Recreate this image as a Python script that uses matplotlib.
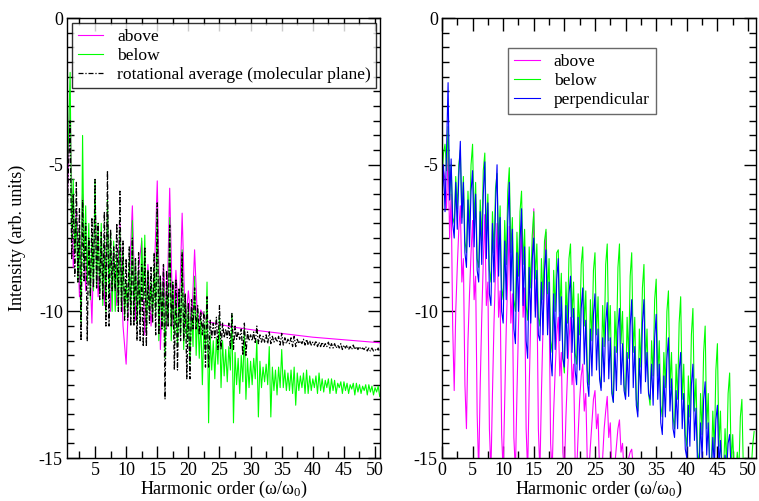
import numpy as np
import matplotlib
matplotlib.use("Agg")
import matplotlib.pyplot as plt

plt.rcParams['font.family'] = ['Liberation Serif', 'DejaVu Serif']
plt.rcParams['mathtext.fontset'] = 'custom'
plt.rcParams['mathtext.rm'] = 'Liberation Serif'
plt.rcParams['mathtext.it'] = 'Liberation Serif:italic'
plt.rcParams['axes.unicode_minus'] = False

# ---------------- left panel (molecular plane) ----------------
# "above": read at 0.5 steps from order 0.5 to 22, then the smooth tail
above_l_osc_x = np.arange(0.5, 22.01, 0.5)
above_l_osc = [-6.5, -3.0, -8.5, -6.5, -9.5, -6.0, -9.3, -7.5, -10.4, -6.2,
               -9.5, -7.6, -9.8, -6.5, -10.0, -7.8, -9.8, -7.0, -10.5, -11.8,
               -9.0, -6.4, -10.3, -8.5, -7.6, -10.8, -8.4, -10.5, -9.0, -5.55,
               -11.3, -8.4, -10.6, -5.8, -10.5, -8.6, -10.4, -6.65, -10.5, -9.3,
               -10.6, -7.9, -10.5, -9.95]
above_l_tail_x = [23.0, 27.0, 31.0, 40.0, 50.8]
above_l_tail_y = [-10.35, -10.53, -10.65, -10.88, -11.07]

# "below" and rotational average: read at 0.25 steps from order 0.5
left_x = np.arange(0.5, 50.76, 0.25)
below_l = [-5.5, -4.0,
           -1.85, -7.5, -5.5, -8.0, -6.8, -9.0, -7.2, -10.4,
           -4.0, -8.6, -6.4, -9.0, -7.0, -9.6, -7.4, -9.3,
           -5.5, -9.2, -7.0, -9.4, -7.0, -9.8, -7.6, -10.0,
           -6.2, -9.5, -7.3, -10.0, -7.6, -10.0, -8.0, -9.9,
           -7.2, -9.9, -8.0, -10.2, -9.0, -10.0, -8.3, -10.1,
           -6.9, -10.2, -8.2, -10.4, -8.6, -10.3, -7.5, -9.6,
           -7.4, -10.75, -8.6, -10.0, -9.0, -10.2, -8.5, -10.0,
           -6.5, -11.0, -8.8, -10.6, -9.0, -11.6, -9.2, -10.5,
           -6.8, -11.0, -9.0, -10.8, -9.4, -11.2, -9.4, -10.8,
           -7.9, -11.3, -9.4, -11.0, -9.8, -11.8, -9.9, -11.2,
           -8.8, -11.5, -10.0, -11.6, -10.3, -12.5, -10.4, -11.4,
           -9.0, -13.8, -10.8, -12.0, -11.0, -12.3, -10.9, -11.8,
           -10.2, -12.6, -11.0, -12.2, -11.3, -12.4, -11.2, -12.0,
           -10.1, -13.8, -11.4, -12.5, -11.6, -12.8, -11.5, -12.4,
           -10.6, -13.0, -11.6, -12.6, -11.7, -12.5, -11.6, -12.3,
           -11.0, -13.6, -11.7, -12.6, -11.9, -12.4, -11.8, -12.5,
           -11.2, -13.6, -11.9, -12.7, -12.0, -12.85, -11.9, -12.6,
           -11.3, -12.6, -12.0, -12.7, -12.1, -12.7, -12.0, -12.8,
           -11.9, -13.2, -12.1, -12.7, -12.2, -12.6, -12.1, -12.8,
           -12.0, -12.8, -12.2, -12.7, -12.3, -12.6, -12.2, -12.8,
           -12.1, -12.7, -12.3, -12.75, -12.35, -12.6, -12.3, -12.8,
           -12.3, -12.7, -12.35, -12.8, -12.45, -12.6, -12.4, -12.8,
           -12.4, -12.7, -12.45, -12.8, -12.5, -12.65, -12.45, -12.85,
           -12.45, -12.75, -12.5, -12.8, -12.55, -12.7, -12.5, -12.85,
           -12.5, -12.75, -12.55, -12.85, -12.6, -12.75, -12.55, -12.9]

rotavg_l = [-7.0, -5.0,
            -3.5, -8.2, -6.0, -8.8, -5.6, -9.0, -6.5, -11.0,
            -6.2, -9.0, -7.0, -11.0, -7.5, -9.5, -6.8, -9.2,
            -5.5, -9.2, -7.0, -9.6, -7.3, -9.6, -6.6, -10.5,
            -5.2, -10.5, -7.2, -9.3, -7.8, -9.3, -7.0, -10.0,
            -5.9, -10.0, -7.6, -10.3, -8.2, -10.3, -7.8, -10.5,
            -7.5, -10.5, -8.2, -11.0, -8.0, -11.0, -8.4, -11.2,
            -7.8, -11.2, -8.6, -10.4, -8.5, -10.4, -8.0, -10.8,
            -6.3, -10.8, -8.8, -10.6, -8.4, -13.0, -8.6, -10.5,
            -7.06, -10.5, -9.0, -12.0, -8.9, -12.0, -9.2, -11.0,
            -8.0, -11.0, -9.4, -12.3, -9.7, -12.3, -9.6, -10.6,
            -9.2, -10.6, -9.8, -10.8, -10.0, -10.8, -10.0, -11.9,
            -9.5, -11.9, -10.3, -10.9, -10.4, -10.9, -10.2, -11.3,
            -9.8, -11.3, -10.4, -10.9, -10.6, -10.9, -10.4, -11.3,
            -10.07, -11.3, -10.5, -10.95, -10.7, -10.95, -10.6, -11.5,
            -10.4, -11.5, -10.7, -11.0, -10.8, -11.0, -10.7, -11.1,
            -10.5, -11.1, -10.8, -11.05, -10.85, -11.05, -10.8, -11.1,
            -10.7, -11.1, -10.85, -11.05, -10.9, -11.05, -10.85, -11.15,
            -10.75, -11.15, -10.9, -11.1, -10.95, -11.1, -10.9, -11.2,
            -10.85, -11.2, -10.95, -11.1, -11.0, -11.1, -10.95, -11.15,
            -10.95, -11.15, -11.0, -11.15, -11.05, -11.15, -11.0, -11.2,
            -11.05, -11.2, -11.05, -11.2, -11.1, -11.2, -11.05, -11.25,
            -11.1, -11.25, -11.1, -11.25, -11.15, -11.25, -11.1, -11.3,
            -11.15, -11.25, -11.15, -11.3, -11.2, -11.3, -11.15, -11.3,
            -11.2, -11.3, -11.2, -11.3, -11.25, -11.3, -11.2, -11.35,
            -11.25, -11.35, -11.25, -11.35, -11.3, -11.35, -11.25, -11.4]

# ---------------- right panel ----------------
# all read at 0.25 steps starting at order 0
right_x = np.arange(0.0, 51.01, 0.25)
above_r = [-6.0, -5.2, -5.5, -6.5,
           -4.5, -7.5, -6.0, -10.5, -12.7, -10.0, -8.5, -7.2,
           -6.4, -9.0, -8.2, -12.5, -14.0, -11.0, -9.4, -8.0,
           -6.9, -9.6, -8.8, -13.5, -15.5, -12.5, -10.2, -8.3,
           -6.7, -9.8, -9.0, -14.0, -15.5, -12.8, -10.4, -8.6,
           -7.0, -10.2, -9.3, -14.2, -15.5, -13.0, -10.6, -8.8,
           -7.1, -10.4, -9.4, -14.3, -15.5, -12.8, -10.5, -8.6,
           -7.0, -10.2, -9.2, -14.0, -15.5, -12.6, -10.3, -8.2,
           -6.5, -10.0, -9.0, -14.0, -15.5, -12.8, -10.6, -8.6,
           -7.3, -10.6, -9.6, -14.5, -15.5, -13.4, -12.0, -10.8,
           -10.2, -12.2, -11.4, -14.8, -15.5, -13.6, -12.2, -11.0,
           -10.2, -12.5, -11.8, -15.0, -15.5, -14.2, -13.0, -12.2,
           -11.8, -13.4, -12.8, -15.2, -15.5, -14.6, -13.8, -13.0,
           -12.7, -14.0, -13.5, -15.5, -15.5, -15.0, -14.0, -13.4,
           -12.9, -14.3, -13.8, -15.5, -15.5, -15.2, -14.6, -14.0,
           -13.7, -14.8, -14.5, -15.5, -15.5, -15.4, -15.0, -14.8,
           -14.7, -15.3, -15.2, -15.6]

below_r = [-5.5, -4.6, -4.3, -5.2,
           -3.7, -6.2, -5.0, -6.8, -7.0, -5.4, -6.5, -5.0,
           -4.5, -6.8, -5.4, -7.6, -8.0, -5.9, -7.2, -5.0,
           -4.3, -7.0, -5.6, -8.2, -8.5, -6.2, -7.6, -5.2,
           -4.6, -7.4, -6.0, -8.6, -9.0, -6.6, -8.0, -5.8,
           -5.3, -7.8, -6.4, -9.2, -9.6, -6.9, -8.4, -5.9,
           -5.1, -8.0, -6.8, -9.6, -10.0, -7.3, -8.8, -6.6,
           -5.9, -8.4, -7.2, -9.8, -10.3, -7.8, -9.2, -7.4,
           -6.6, -8.9, -7.7, -10.2, -10.5, -8.2, -9.6, -7.6,
           -7.2, -9.4, -8.2, -11.0, -11.4, -8.6, -10.0, -8.0,
           -7.9, -10.0, -8.7, -11.6, -12.1, -9.0, -10.4, -8.2,
           -7.7, -10.2, -9.0, -11.4, -11.8, -9.4, -10.8, -8.4,
           -7.8, -10.5, -9.3, -12.0, -12.5, -9.6, -11.0, -8.6,
           -8.0, -10.8, -9.5, -12.2, -12.6, -9.8, -11.2, -8.4,
           -7.7, -11.0, -9.8, -12.6, -13.1, -10.0, -11.4, -8.5,
           -7.7, -11.1, -10.0, -12.5, -12.9, -10.2, -11.6, -8.8,
           -8.0, -11.4, -10.2, -13.0, -13.4, -10.6, -11.9, -9.2,
           -8.4, -11.8, -10.6, -12.8, -13.2, -11.0, -12.2, -9.6,
           -8.9, -12.2, -11.0, -13.2, -13.6, -11.4, -12.6, -10.0,
           -9.3, -12.6, -11.4, -13.6, -14.0, -11.8, -13.0, -10.4,
           -9.5, -13.0, -11.8, -14.2, -14.6, -12.2, -13.6, -10.8,
           -9.9, -13.4, -12.3, -14.8, -15.2, -12.8, -14.2, -11.4,
           -10.5, -14.0, -12.8, -15.3, -15.5, -13.4, -14.8, -12.0,
           -11.1, -14.6, -13.4, -15.5, -15.5, -14.0, -15.3, -12.8,
           -12.1, -15.2, -14.2, -15.5, -15.5, -14.8, -15.5, -13.6,
           -13.0, -15.5, -15.0, -15.6, -15.6, -15.4, -15.5, -14.6,
           -14.1]

perp_r = [-6.4, -5.0, -6.6, -4.5,
          -2.2, -6.2, -4.8, -7.0, -7.5, -5.6, -7.2, -5.4,
          -4.2, -7.0, -5.6, -8.0, -8.5, -6.2, -7.8, -5.9,
          -5.2, -7.8, -6.0, -8.6, -9.0, -6.6, -8.4, -6.0,
          -4.9, -8.2, -6.3, -9.4, -9.8, -7.0, -9.0, -6.4,
          -5.0, -8.8, -6.8, -10.0, -10.4, -7.6, -9.6, -6.9,
          -5.6, -9.3, -7.2, -10.6, -11.1, -8.0, -10.0, -7.6,
          -6.5, -9.8, -7.8, -11.0, -11.6, -8.5, -10.4, -8.2,
          -7.5, -10.2, -8.6, -10.8, -11.0, -9.0, -10.8, -8.6,
          -7.9, -10.8, -9.0, -11.6, -12.2, -9.4, -11.3, -8.9,
          -8.2, -11.0, -9.5, -11.6, -11.9, -9.8, -11.6, -9.4,
          -8.8, -11.4, -9.9, -12.0, -12.5, -10.2, -12.0, -9.9,
          -9.2, -11.8, -10.3, -12.4, -12.9, -10.6, -12.2, -10.1,
          -9.4, -12.0, -10.6, -12.3, -12.7, -10.9, -12.4, -10.4,
          -9.7, -12.3, -10.9, -12.8, -13.1, -11.2, -12.7, -10.6,
          -9.9, -12.5, -11.1, -12.7, -13.0, -11.4, -12.9, -10.5,
          -9.6, -12.6, -11.2, -13.2, -13.6, -11.6, -12.8, -10.4,
          -9.6, -12.4, -11.4, -12.8, -13.0, -11.8, -13.2, -10.9,
          -10.1, -13.0, -11.8, -13.8, -14.2, -12.2, -13.6, -11.6,
          -10.9, -13.4, -12.3, -14.0, -14.3, -12.7, -14.0, -12.0,
          -11.4, -14.0, -12.8, -14.7, -15.0, -13.2, -14.6, -12.5,
          -11.8, -14.4, -13.3, -15.2, -15.5, -13.8, -15.0, -13.0,
          -12.4, -14.9, -13.8, -15.5, -15.5, -14.3, -15.3, -13.7,
          -13.2, -15.3, -14.4, -15.5, -15.5, -14.9, -15.5, -14.5,
          -14.2, -15.5, -15.2, -15.6]

MAGENTA = '#ff00ff'
GREEN = '#00ff00'
BLUE = '#0000ff'
FS = 13
LEG_FS = 12.6

fig = plt.figure(figsize=(7.59, 5.01), dpi=100)
ax1 = fig.add_axes([0.0883, 0.0858, 0.4124, 0.878])
ax2 = fig.add_axes([0.5823, 0.0858, 0.4137, 0.878])

# left panel
ax1.plot(np.concatenate([above_l_osc_x, above_l_tail_x]),
         np.concatenate([above_l_osc, above_l_tail_y]),
         color=MAGENTA, lw=0.8, label='above')
ax1.plot(left_x[:len(below_l)], below_l, color=GREEN, lw=0.8, label='below')
ax1.plot(left_x[:len(rotavg_l)], rotavg_l, color='black', lw=0.9,
         linestyle=(0, (4, 1.5, 1, 1.5)),
         label='rotational average (molecular plane)')

# right panel
ax2.plot(right_x[:len(above_r)], above_r, color=MAGENTA, lw=0.8, label='above')
ax2.plot(right_x[:len(below_r)], below_r, color=GREEN, lw=0.8, label='below')
ax2.plot(right_x[:len(perp_r)], perp_r, color=BLUE, lw=0.8, label='perpendicular')

for ax, xlim, xt in [(ax1, (0.5, 50.8), np.arange(5, 51, 5)),
                     (ax2, (0, 51.3), np.arange(0, 51, 5))]:
    ax.set_xlim(*xlim)
    ax.set_ylim(-15, 0)
    ax.set_xticks(xt)
    ax.set_xticks(np.arange(2.5, 51, 5), minor=True)
    ax.set_yticks([0, -5, -10, -15])
    ax.set_yticks(np.arange(-15, 0.01, 0.5), minor=True)
    ax.tick_params(which='both', direction='in', top=True, right=True,
                   labelsize=FS, width=1, pad=3)
    ax.tick_params(which='major', length=9)
    ax.tick_params(which='minor', length=5)
    for s in ax.spines.values():
        s.set_linewidth(1)
    ax.set_xlabel(r'Harmonic order ($\mathrm{\omega/\omega_0}$)', fontsize=FS, labelpad=0)

ax1.set_ylabel('Intensity (arb. units)', fontsize=FS, labelpad=9)

leg1 = ax1.legend(loc='upper left', fontsize=LEG_FS, handlelength=1.45, handletextpad=0.8,
                  borderaxespad=0.3, labelspacing=0.15, fancybox=False,
                  frameon=True, borderpad=0.3)
leg1.get_frame().set_edgecolor('black')
leg1.get_frame().set_linewidth(1)

leg2 = ax2.legend(loc='upper left', bbox_to_anchor=(0.183, 0.953), fontsize=LEG_FS,
                  handlelength=1.45, handletextpad=0.8, labelspacing=0.15,
                  fancybox=False, frameon=True, borderpad=0.35)
leg2.get_frame().set_edgecolor('#444444')
leg2.get_frame().set_linewidth(1)

fig.savefig('out.png', dpi=100)
